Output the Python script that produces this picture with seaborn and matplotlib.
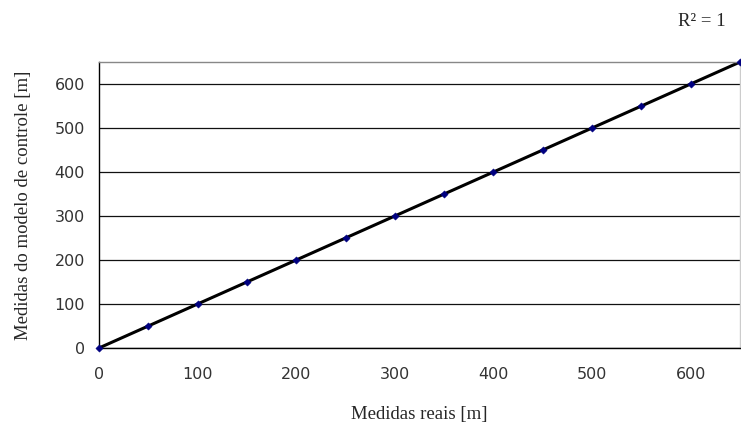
import matplotlib
matplotlib.use("Agg")
import matplotlib.pyplot as plt
import pandas as pd
import seaborn as sns

# Data
medidas_reais = [0, 50, 100, 150, 200, 250, 300, 350, 400, 450, 500, 550, 600, 650]
medidas_modelo = [0, 50, 100, 150, 200, 250, 300, 350, 400, 450, 500, 550, 600, 650]
x_ticks = [0, 100, 200, 300, 400, 500, 600]
y_ticks = [0, 100, 200, 300, 400, 500, 600]

data = pd.DataFrame({"real": medidas_reais, "modelo": medidas_modelo})

sns.set_style("white")
plt.rcParams["font.family"] = ["DejaVu Sans"]

fig = plt.figure(figsize=(7.41, 4.25), dpi=100)
ax = fig.add_axes([99 / 741, 77 / 425, 641 / 741, 286 / 425])

for y in y_ticks:
    ax.axhline(y, color="#111111", lw=0.9, zorder=1)

# linear trendline
sns.regplot(x="real", y="modelo", data=data, ax=ax, ci=None, scatter=False,
            line_kws={"color": "black", "lw": 2.2}, truncate=True)
sns.scatterplot(x="real", y="modelo", data=data, ax=ax, marker="D", s=14,
                color="#000080", edgecolor="#000080", zorder=3, clip_on=False)

ax.set_xlim(0, 650)
ax.set_ylim(0, 650)
ax.set_xticks(x_ticks)
ax.set_yticks(y_ticks)
ax.tick_params(axis="both", direction="out", length=6, width=1, color="black",
               labelsize=11.5, labelcolor="#333333", pad=4)
ax.tick_params(axis="x", pad=8)

ax.spines["left"].set_color("black")
ax.spines["bottom"].set_color("black")
ax.spines["top"].set_color("#888888")
ax.spines["right"].set_color("#cccccc")
for s in ax.spines.values():
    s.set_linewidth(1)

ax.set_xlabel("Medidas reais [m]", family="Liberation Serif", fontsize=13.5, labelpad=17)
ax.set_ylabel("Medidas do modelo de controle [m]", family="Liberation Serif",
              fontsize=13.5, labelpad=16)

fig.text(702 / 741, 1 - 21 / 425, "R\u00b2 = 1", family="Liberation Serif",
         fontsize=13.5, ha="center", va="center")

fig.savefig("out.png", dpi=100)
